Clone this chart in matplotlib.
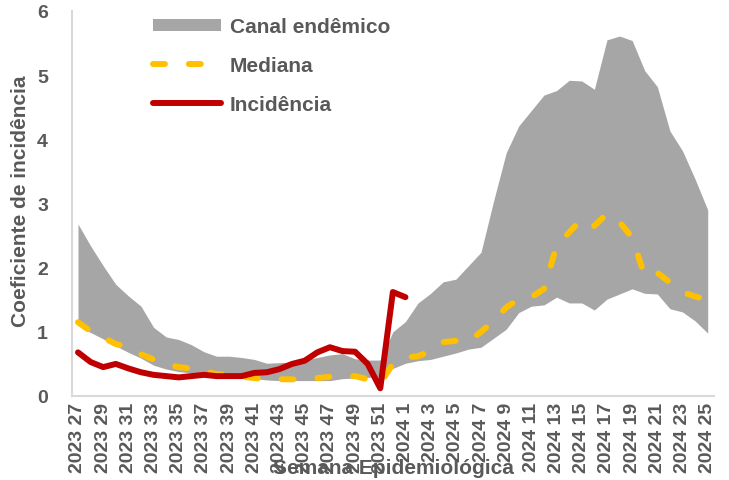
import numpy as np
import matplotlib
matplotlib.use('Agg')
import matplotlib.pyplot as plt
from matplotlib.patches import Patch
from matplotlib.lines import Line2D

#%% data
weeks = ['2023 %d' % w for w in range(27, 53)] + ['2024 %d' % w for w in range(1, 26)]

upper = [2.68, 2.34, 2.03, 1.74, 1.56, 1.40, 1.07, 0.92, 0.88, 0.80,
         0.69, 0.62, 0.62, 0.60, 0.57, 0.51, 0.52, 0.53, 0.56, 0.60,
         0.64, 0.66, 0.58, 0.56, 0.56, 1.00, 1.16, 1.45, 1.60, 1.78,
         1.82, 2.03, 2.24, 3.04, 3.79, 4.21, 4.45, 4.69, 4.76, 4.92,
         4.91, 4.78, 5.55, 5.61, 5.54, 5.07, 4.82, 4.13, 3.82, 3.38, 2.90]

lower = [1.10, 0.99, 0.89, 0.78, 0.68, 0.59, 0.48, 0.42, 0.38, 0.36,
         0.34, 0.33, 0.31, 0.29, 0.27, 0.25, 0.24, 0.24, 0.24, 0.24,
         0.24, 0.27, 0.28, 0.29, 0.30, 0.43, 0.51, 0.55, 0.57, 0.62,
         0.67, 0.73, 0.76, 0.90, 1.04, 1.30, 1.40, 1.42, 1.54, 1.45,
         1.45, 1.34, 1.51, 1.59, 1.67, 1.60, 1.59, 1.36, 1.31, 1.17, 0.98]

mediana = [1.15, 1.01, 0.91, 0.81, 0.76, 0.65, 0.57, 0.50, 0.45, 0.43,
           0.39, 0.34, 0.33, 0.30, 0.28, 0.26, 0.26, 0.26, 0.26, 0.28,
           0.30, 0.31, 0.31, 0.26, 0.20, 0.50, 0.60, 0.62, 0.70, 0.84,
           0.86, 0.84, 1.00, 1.17, 1.38, 1.51, 1.54, 1.67, 2.34, 2.55,
           2.76, 2.65, 2.84, 2.71, 2.47, 1.87, 1.92, 1.77, 1.62, 1.55, 1.50]

incidencia = [0.68, 0.53, 0.45, 0.50, 0.43, 0.37, 0.33, 0.31, 0.29, 0.31,
              0.33, 0.31, 0.31, 0.31, 0.36, 0.37, 0.42, 0.50, 0.55, 0.68,
              0.76, 0.70, 0.69, 0.50, 0.12, 1.62, 1.54]

#%% style
plt.rcParams['font.family'] = ['Liberation Sans', 'DejaVu Sans']
plt.rcParams['font.weight'] = 'bold'
txt = '#595959'
c_band = '#A6A6A6'
c_med = '#FFC000'
c_inc = '#C00000'

fig = plt.figure(figsize=(7.29, 4.81), dpi=100)
ax = fig.add_axes([71.7/729, 1-397/481, 642.3/729, 385/481])

x = np.arange(len(weeks))
ax.fill_between(x, lower, upper, color=c_band, lw=0, zorder=1)
ax.plot(x, mediana, color=c_med, lw=4.3, dashes=(2, 4),
        dash_capstyle='round', solid_capstyle='round', zorder=2)
ax.plot(x[:len(incidencia)], incidencia, color=c_inc, lw=4.3,
        solid_capstyle='round', solid_joinstyle='round', zorder=3)

ax.set_xlim(-0.5, len(weeks)-0.5)
ax.set_ylim(0, 6)
ax.set_yticks(range(7))
ax.set_xticks(x[::2])
ax.set_xticklabels(weeks[::2], rotation=90, fontsize=14, color=txt,
                   fontweight='bold')
ax.tick_params(axis='x', length=0, pad=4)
ax.tick_params(axis='y', length=0, pad=17, labelsize=14, labelcolor=txt)

for s in ['top', 'right']:
    ax.spines[s].set_visible(False)
for s in ['left', 'bottom']:
    ax.spines[s].set_color('#D9D9D9')
    ax.spines[s].set_linewidth(1.5)

fig.text(21/729, 1-201.5/481, 'Coeficiente de incidência', rotation=90,
         ha='center', va='center', fontsize=15, color=txt, fontweight='bold')
fig.text(393/729, 1-469/481, 'Semana Epidemiológica', ha='center',
         va='center', fontsize=15, color=txt, fontweight='bold', zorder=-1)

handles = [Patch(facecolor=c_band, edgecolor='none'),
           Line2D([], [], color=c_med, lw=4.3, dashes=(2, 4),
                  dash_capstyle='round'),
           Line2D([], [], color=c_inc, lw=4.3, solid_capstyle='round')]
leg = ax.legend(handles, ['Canal endêmico', 'Mediana', 'Incidência'],
                loc='upper left', bbox_to_anchor=(0.126, 0.984), frameon=False,
                borderpad=0, borderaxespad=0, handlelength=3.3,
                handleheight=0.55, handletextpad=0.4, labelspacing=0.95,
                prop={'size': 15, 'weight': 'bold'})
for t in leg.get_texts():
    t.set_color(txt)

fig.savefig('out.png', dpi=100, facecolor='w')
